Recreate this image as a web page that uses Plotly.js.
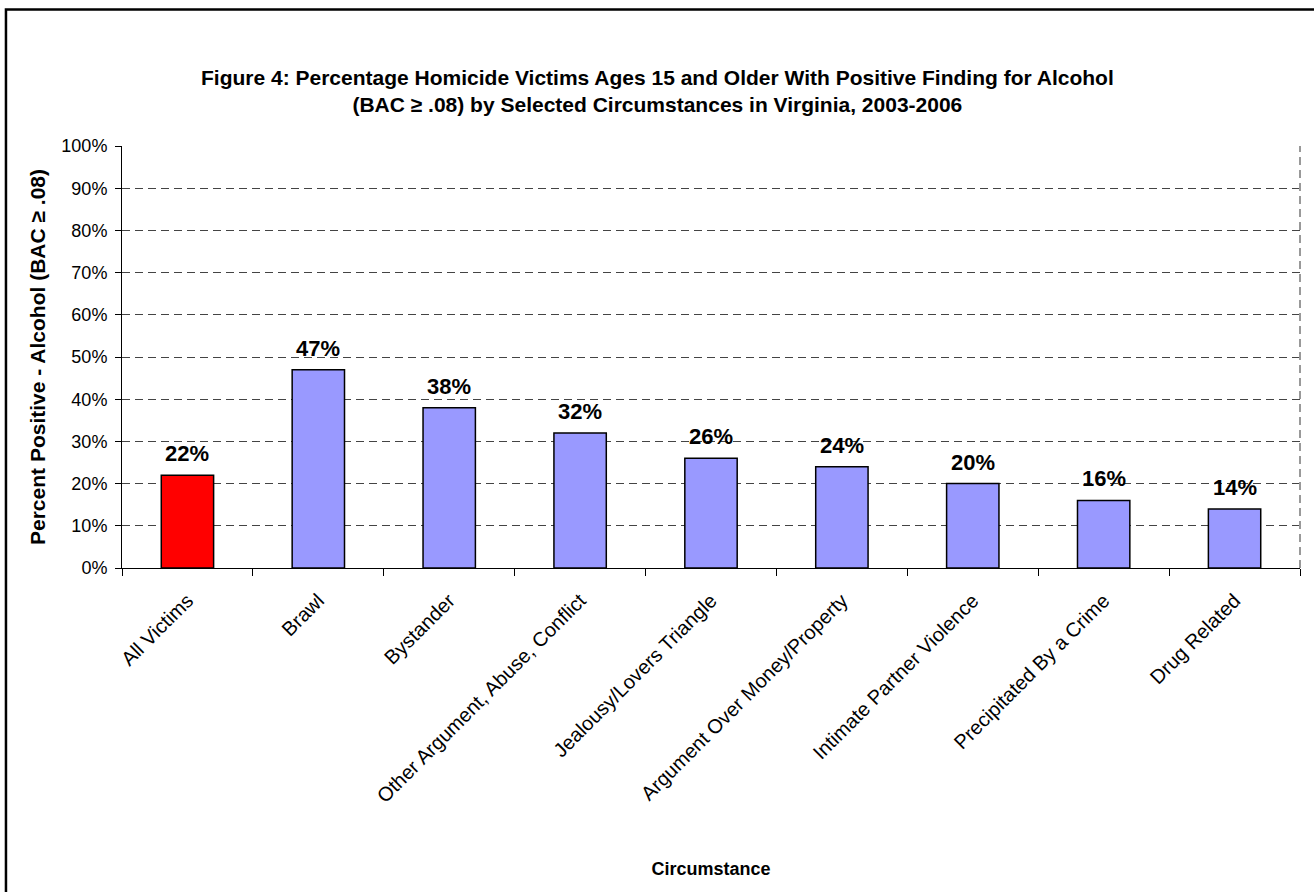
<!DOCTYPE html>
<html>
<head>
<meta charset="utf-8">
<script src="https://cdn.plot.ly/plotly-3.0.1.min.js"></script>
<style>html,body{margin:0;padding:0;background:#fff;}#chart{width:1314px;height:892px;}</style>
</head>
<body>
<div id="chart"></div>
<script>
const categories = ["All Victims","Brawl","Bystander","Other Argument, Abuse, Conflict","Jealousy/Lovers Triangle","Argument Over Money/Property","Intimate Partner Violence","Precipitated By a Crime","Drug Related"];
const values = [22, 47, 38, 32, 26, 24, 20, 16, 14];
const barColors = ["#FF0000","#9999FF","#9999FF","#9999FF","#9999FF","#9999FF","#9999FF","#9999FF","#9999FF"];
const yTickVals = [0,10,20,30,40,50,60,70,80,90,100];
const yTickText = yTickVals.map(v => v + "%");
const titleLines = ["Figure 4: Percentage Homicide Victims Ages 15 and Older With Positive Finding for Alcohol",
                    "(BAC ≥ .08) by Selected Circumstances in Virginia, 2003-2006"];

const font = "Liberation Sans, Arial, sans-serif";

const trace = {
  type: "bar",
  x: categories,
  y: values,
  width: 0.4,
  marker: {color: barColors, line: {color: "#000", width: 1.5}},
  hoverinfo: "skip"
};

const annotations = categories.map((c, i) => ({
  x: c, y: values[i], xref: "x", yref: "y",
  text: "<b>" + values[i] + "%</b>",
  showarrow: false, yanchor: "bottom", yshift: 7,
  font: {family: font, size: 22, color: "#000"}
}));

// title (two lines)
annotations.push({
  x: 0.4542, y: 1.1303, xref: "paper", yref: "paper",
  xanchor: "center", yanchor: "middle", align: "center", showarrow: false,
  text: "<b>" + titleLines.join("<br>") + "</b>",
  font: {family: font, size: 21, color: "#000"}
});

const layout = {
  width: 1314, height: 892,
  margin: {l: 122, r: 14, t: 146, b: 324},
  paper_bgcolor: "#fff", plot_bgcolor: "#fff",
  showlegend: false,
  xaxis: {
    type: "category",
    tickangle: -45,
    tickson: "boundaries",
    ticks: "outside", ticklen: 7, tickcolor: "#000", tickwidth: 1,
    ticklabelstandoff: 12,
    showline: true, linecolor: "#000", linewidth: 1,
    showgrid: false,
    tickfont: {family: font, size: 20, color: "#000"},
    title: {text: "<b>Circumstance</b>", font: {family: font, size: 18, color: "#000"}, standoff: 56}
  },
  yaxis: {
    range: [0, 100],
    tickvals: yTickVals, ticktext: yTickText,
    ticks: "outside", ticklen: 6, tickcolor: "#000",
    ticklabelstandoff: 4,
    showline: true, linecolor: "#000", linewidth: 1,
    showgrid: true, gridcolor: "#444", gridwidth: 1, griddash: "8px,5px",
    zeroline: false,
    tickfont: {family: font, size: 18, color: "#000"},
    title: {text: "<b>Percent Positive - Alcohol (BAC ≥ .08)</b>", font: {family: font, size: 21, color: "#000"}, standoff: 10}
  },
  annotations: annotations,
  shapes: [
    {type: "line", xref: "paper", yref: "paper", x0: 1, x1: 1, y0: 0, y1: 1,
     line: {color: "#999", width: 2, dash: "8px,5px"}},
    {type: "rect", xref: "paper", yref: "paper", x0: -0.0985, x1: 1.03, y0: -0.8, y1: 1.3235,
     line: {color: "#000", width: 2.5}, fillcolor: "rgba(0,0,0,0)", layer: "below"}
  ]
};

Plotly.newPlot("chart", [trace], layout, {displayModeBar: false, staticPlot: true});
</script>
</body>
</html>
